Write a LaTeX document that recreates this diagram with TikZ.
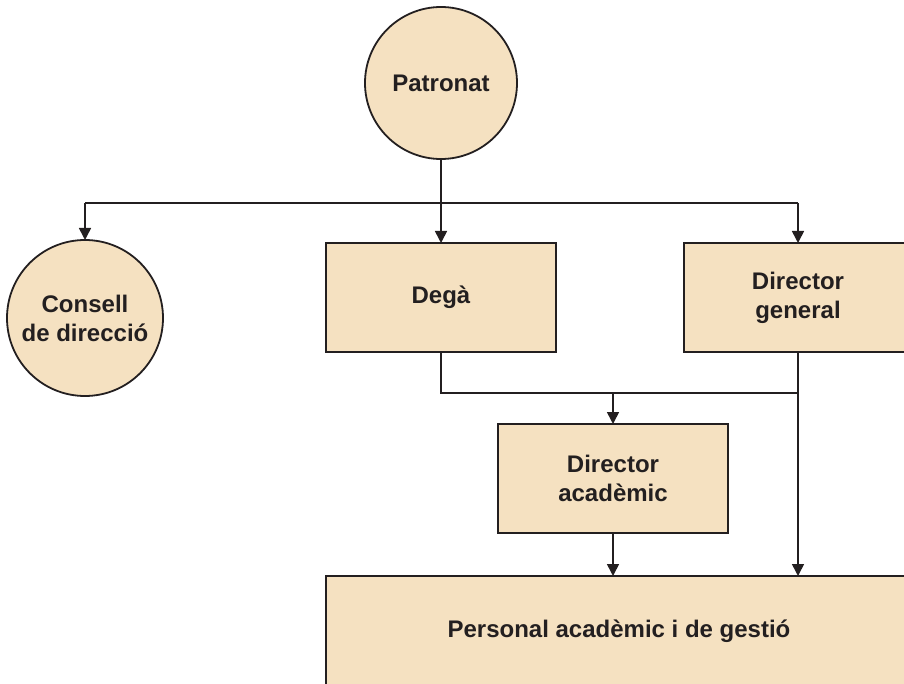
\documentclass[tikz,border=0pt]{standalone}
\usepackage{fontspec}
\setmainfont{Liberation Sans}
\usetikzlibrary{arrows.meta}
\definecolor{boxfill}{RGB}{245,225,193}
\definecolor{ink}{RGB}{35,31,32}
\tikzset{
  lbl/.style={font=\bfseries\fontsize{24}{29}\selectfont, text=ink, align=center},
  circ/.style={circle, draw=ink, line width=1.8pt, fill=boxfill, minimum size=#1, inner sep=0pt, outer sep=0pt, lbl},
  rbox/.style={rectangle, draw=ink, line width=1.8pt, fill=boxfill, inner sep=0pt, outer sep=0pt, lbl},
  conn/.style={draw=ink, line width=1.6pt},
  arr/.style={conn, -{Triangle[width=12pt,length=12pt]}}
}
\begin{document}
\begin{tikzpicture}[x=1pt,y=-1pt]
\useasboundingbox (0,0) rectangle (904,684);
\clip (0,0) rectangle (904,684);
\node[circ=152pt] (pat) at (441,83) {Patronat};
\node[circ=156pt] (con) at (85,318) {Consell\\de direcció};
\node[rbox, minimum width=230pt, minimum height=109pt] (deg) at (441,297.5) {Degà};
\node[rbox, minimum width=224pt, minimum height=109pt] (dg) at (796,297.5) {};
\node[lbl] (dgt) at (798,298) {Director\\general};
\node[rbox, minimum width=230pt, minimum height=109pt] (da) at (613,478.5) {Director\\acadèmic};
\node[rbox, minimum width=582pt, minimum height=112pt] (per) at (617,632) {};
\node[lbl] (pert) at (619,631) {Personal acadèmic i de gestió};
\coordinate (j1) at (441,203);
\coordinate (j2) at (613,393);
\coordinate (dgx) at (798,352);
\coordinate (dgn) at (798,243);
\draw[conn] (con.north |- j1) -- (dgn |- j1);
\draw[arr] (pat.south) -- (deg.north);
\draw[arr] (con.north |- j1) -- (con.north);
\draw[arr] (dgn |- j1) -- (dgn);
\draw[conn] (deg.south) |- (dgx |- j2);
\draw[arr] (dgx) -- (dgx |- per.north);
\draw[arr] (j2) -- (da.north);
\draw[arr] (da.south) -- (da.south |- per.north);
\end{tikzpicture}
\end{document}
